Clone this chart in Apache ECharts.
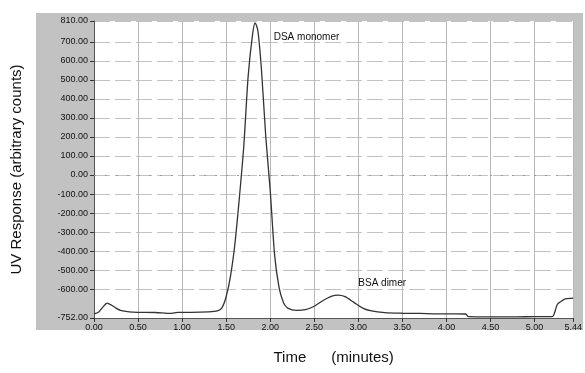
<!DOCTYPE html>
<html>
<head>
<meta charset="utf-8">
<script src="https://cdn.jsdelivr.net/npm/echarts@6/dist/echarts.min.js"></script>
<style>
    html, body { margin: 0; padding: 0; background: #fff; }
    #chart { width: 585px; height: 373px; }
</style>
</head>
<body>
<div id="chart"></div>
<script>
// elution time (minutes) and UV response
const times = [0.00, 0.05, 0.10, 0.15, 0.20, 0.25, 0.30, 0.40, 0.50, 0.70, 0.87, 0.95, 1.10, 1.30, 1.40, 1.45,
    1.50, 1.55, 1.60, 1.65, 1.70, 1.75, 1.80, 1.83, 1.86, 1.90, 1.95, 2.00, 2.05, 2.10, 2.15, 2.20,
    2.30, 2.40, 2.50, 2.60, 2.70, 2.77, 2.85, 2.95, 3.05, 3.15, 3.30, 3.50, 3.70, 3.90, 4.10, 4.22,
    4.25, 4.50, 4.80, 5.00, 5.20, 5.22, 5.26, 5.30, 5.35, 5.44]
const response = [-730, -722, -695, -674, -685, -700, -712, -720, -722, -723, -728, -722, -722, -720, -715, -700,
    -640, -530, -360, -120, 150, 520, 740, 800, 760, 560, 200, -80, -420, -590, -670, -700,
    -712, -708, -690, -660, -637, -632, -640, -670, -700, -715, -724, -727, -728, -730, -730, -731,
    -745, -746, -746, -745, -745, -735, -680, -665, -652, -648]

const xTicks = [0, 0.5, 1.0, 1.5, 2.0, 2.5, 3.0, 3.5, 4.0, 4.5, 5.0, 5.44]
const yTicks = [-752, -600, -500, -400, -300, -200, -100, 0, 100, 200, 300, 400, 500, 600, 700, 810]

const annotations = [
    { name: 'DSA monomer', at: [2.04, 726] },
    { name: 'BSA dimer', at: [3.0, -568] },
]

const chart = echarts.init(document.getElementById('chart'))
chart.setOption({
    animation: false,
    backgroundColor: '#fff',
    textStyle: { fontFamily: 'Liberation Sans' },
    graphic: [{
        type: 'rect',
        z: -10,
        shape: { x: 36, y: 13, width: 547, height: 317 },
        style: { fill: '#c2c2c2' },
    }],
    grid: {
        left: 94,
        right: 7,
        top: 21,
        bottom: 55,
        show: true,
        backgroundColor: '#fff',
        borderWidth: 0,
    },
    xAxis: {
        type: 'value',
        min: 0,
        max: 5.44,
        name: 'Time      (minutes)',
        nameLocation: 'middle',
        nameGap: 32,
        nameTextStyle: { fontSize: 15, color: '#111' },
        axisLine: { show: true, onZero: false, lineStyle: { color: '#555' } },
        axisTick: { show: true, length: 4, customValues: xTicks, lineStyle: { color: '#333' } },
        axisLabel: {
            customValues: xTicks,
            fontSize: 9,
            color: '#111',
            margin: 5,
            formatter: v => v.toFixed(2),
        },
        splitLine: { show: true, lineStyle: { color: '#b8b8b8', width: 1 } },
    },
    yAxis: {
        type: 'value',
        min: -752,
        max: 810,
        name: 'UV Response (arbitrary counts)',
        nameLocation: 'middle',
        nameGap: 70,
        nameTextStyle: { fontSize: 15, color: '#111' },
        axisLine: { show: true, lineStyle: { color: '#555' } },
        axisTick: { show: true, length: 4, customValues: yTicks, lineStyle: { color: '#333' } },
        axisLabel: {
            customValues: yTicks,
            fontSize: 9,
            color: '#111',
            margin: 6,
            formatter: v => v.toFixed(2),
        },
        splitLine: { show: true, lineStyle: { color: '#c2c2c2', width: 1, type: [16, 5] } },
    },
    series: [{
        type: 'line',
        data: times.map((t, i) => [t, response[i]]),
        showSymbol: false,
        smooth: 0.25,
        lineStyle: { color: '#333', width: 1.3 },
        markLine: {
            silent: true,
            symbol: 'none',
            label: { show: false },
            lineStyle: { color: '#999', type: [2, 9], width: 1 },
            data: [{ yAxis: 0 }],
        },
        markPoint: {
            symbol: 'rect',
            symbolSize: 0,
            data: annotations.map(a => ({
                coord: a.at,
                label: {
                    show: true,
                    formatter: a.name,
                    fontSize: 10,
                    color: '#111',
                    position: 'right',
                    distance: 0,
                },
            })),
        },
    }],
})
</script>
</body>
</html>
